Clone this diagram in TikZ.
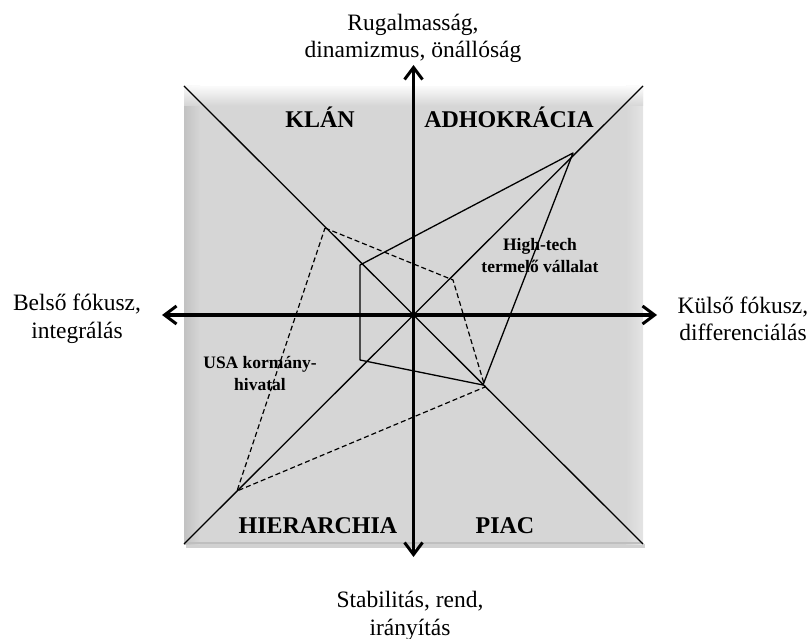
\documentclass[tikz,border=0pt]{standalone}
\usepackage{fontspec}
\setmainfont{Liberation Serif}
\usetikzlibrary{arrows.meta}
\definecolor{panel}{RGB}{214,214,214}
\definecolor{paneldark}{RGB}{194,194,194}
\definecolor{panellight}{RGB}{228,228,228}
\begin{document}
\begin{tikzpicture}[x=1pt,y=-1pt,
  axis/.style={line width=3.6pt,{Straight Barb[length=12pt,width=18pt,line width=3pt]}-{Straight Barb[length=12pt,width=18pt,line width=3pt]}},
  diag/.style={line width=1.3pt},
  profile/.style={line width=1.3pt,line join=round},
  govprofile/.style={line width=1.2pt,dash pattern=on 5pt off 3pt,line join=round},
  quadlabel/.style={font=\bfseries\fontsize{24}{28}\selectfont,inner sep=0pt,anchor=base},
  caption/.style={font=\bfseries\fontsize{17.5}{22}\selectfont,align=center,inner sep=0pt},
  dimlabel/.style={font=\fontsize{23.5}{27.5}\selectfont,align=center,inner sep=0pt}]
\useasboundingbox (0,0) rectangle (812,639);

% panel with a soft bevel
\fill[black!18] (186,544) rectangle (645,548);
\fill[panel] (184,86) rectangle (643,544);
\shade[left color=paneldark,right color=panel] (184,86) rectangle (200,544);
\shade[left color=panel,right color=panellight] (626,86) rectangle (643,544);
\shade[top color=white,bottom color=panel,opacity=0.9] (184,86) rectangle (643,106);
\fill[black!25] (184,542) rectangle (643,544);

% corners and centre
\coordinate (tl) at (184,86);
\coordinate (tr) at (643,86);
\coordinate (bl) at (184,544);
\coordinate (br) at (643,544);
\coordinate (o) at (413.5,315);

% diagonals
\draw[diag] (tl) -- (br);
\draw[diag] (bl) -- (tr);

% high-tech company profile
\coordinate (ha) at (573,153);
\coordinate (hb) at (360,265);
\coordinate (hc) at (360,360);
\coordinate (hd) at (483,385);
\draw[profile] (ha) -- (hb) -- (hc) -- (hd) -- cycle;

% government agency profile
\coordinate (ga) at (325,228);
\coordinate (gb) at (453,280);
\coordinate (gc) at (485,387);
\coordinate (gd) at (237,491);
\draw[govprofile] (ga) -- (gb) -- (gc) -- (gd) -- cycle;

% axes
\coordinate (xl) at (162,315);
\coordinate (xr) at (657,315);
\coordinate (yt) at (413.5,65);
\coordinate (yb) at (413.5,557);
\draw[axis] (xl) -- (xr);
\draw[axis] (yb) -- (yt);

% quadrant names
\node[quadlabel] (klan) at (320,128) {KLÁN};
\node[quadlabel] (adho) at (509,128) {ADHOKRÁCIA};
\node[quadlabel] (hier) at (318,533) {HIERARCHIA};
\node[quadlabel] (piac) at (505,533) {PIAC};

% profile captions
\node[caption] (hitech) at (540,256) {High-tech\\termelő vállalat};
\node[caption] (usa) at (260,374) {USA kormány-\\hivatal};

% dimension labels
\node[dimlabel] (top) at (413,38.5) {Rugalmasság,\\dinamizmus, önállóság};
\node[dimlabel] (left) at (77,319) {Belső fókusz,\\integrálás};
\node[dimlabel] (right) at (743,319) {Külső fókusz,\\differenciálás};
\node[dimlabel] (bottom) at (410,616) {Stabilitás, rend,\\irányítás};
\end{tikzpicture}
\end{document}
